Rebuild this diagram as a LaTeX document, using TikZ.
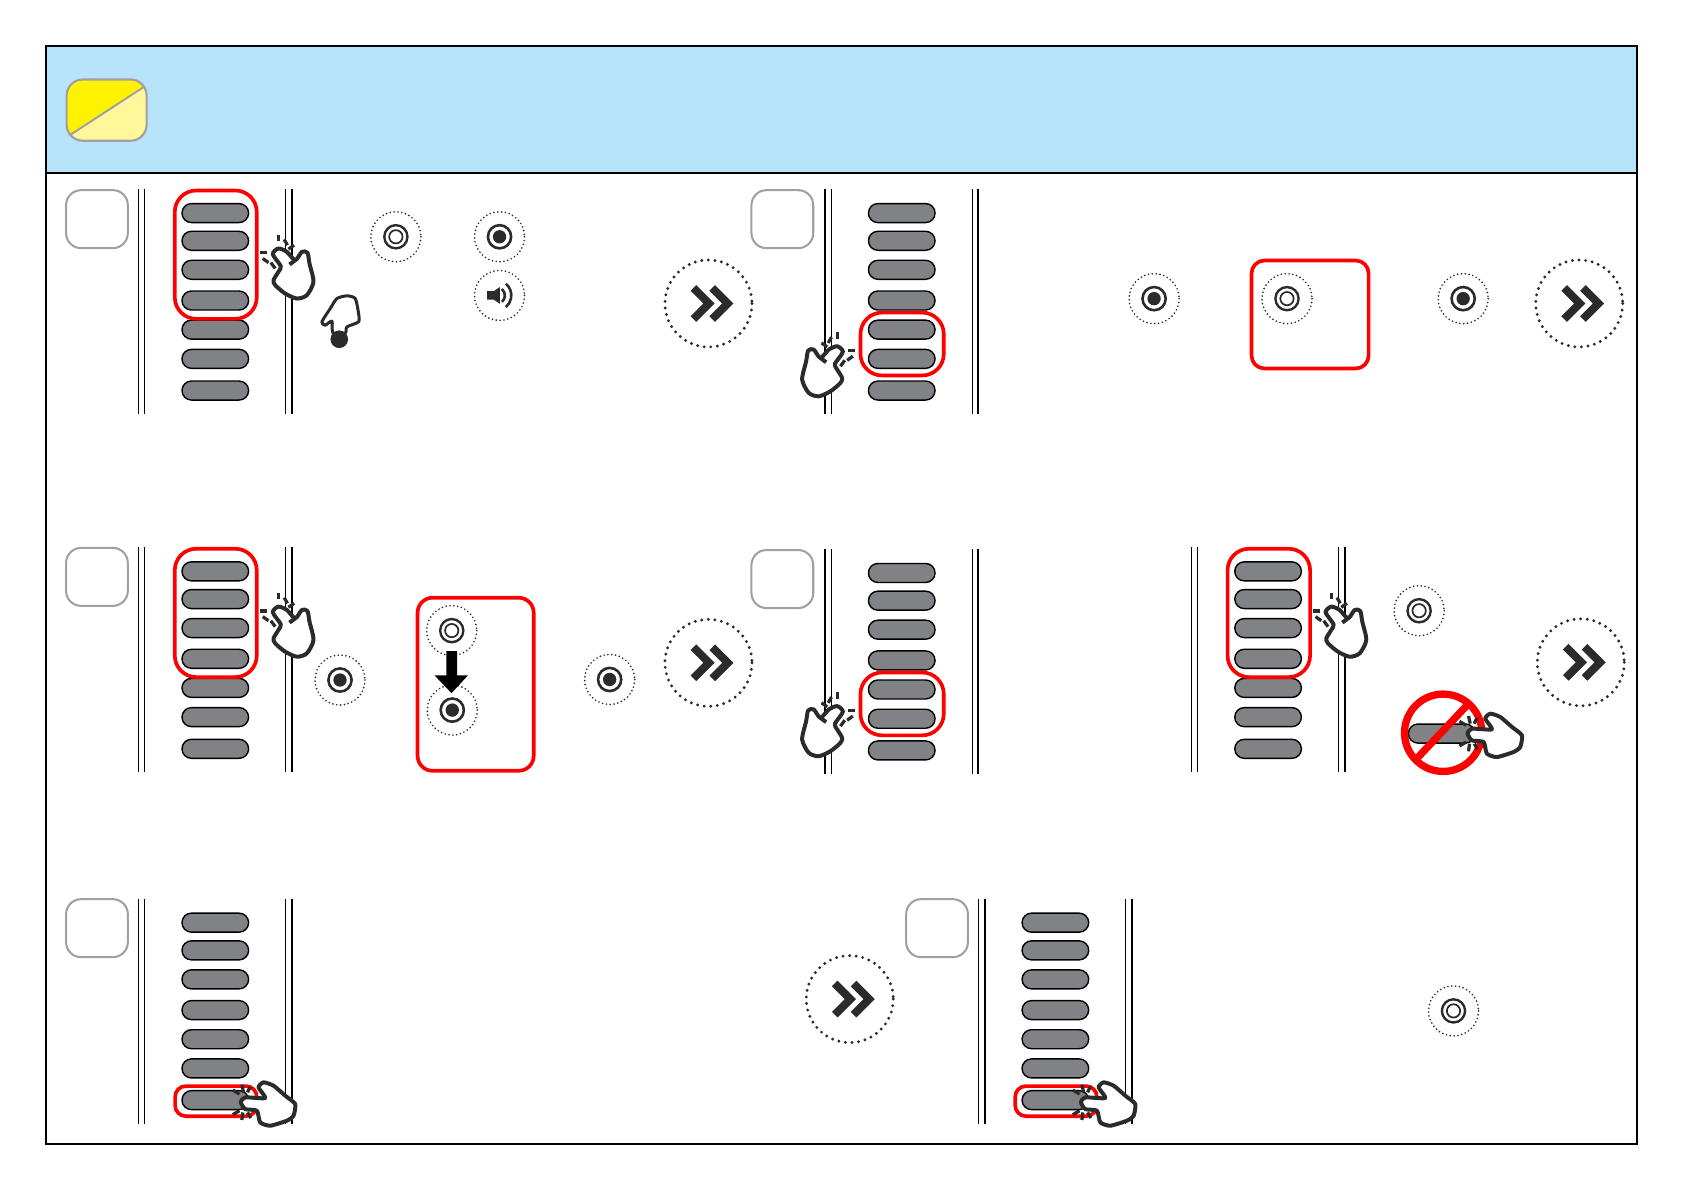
\documentclass[tikz,border=0pt]{standalone}
\usepackage{xcolor}
\definecolor{headblue}{HTML}{B7E4FA}
\definecolor{inkdark}{HTML}{2B2B2B}
\definecolor{pillgray}{HTML}{808285}
\definecolor{boxgray}{HTML}{A0A0A2}
\definecolor{badgeyellow}{HTML}{FFF200}
\definecolor{badgepale}{HTML}{FFF799}
\tikzset{
  numbox/.style={draw=boxgray, line width=1.9pt, fill=white, rounded corners=14pt},
  redbox/.style={draw=red, line width=3.4pt, rounded corners=#1},
  redbox/.default=20pt,
  rail/.style={line width=1.2pt},
  pillbar/.style={draw=black, line width=1.3pt, fill=pillgray, rounded corners=8.8pt},
  tick/.style={draw=inkdark, line width=3pt},
  handline/.style={draw=inkdark, line width=3.7pt, fill=white, line join=round},
  smalldots/.style={draw=inkdark, line width=1.7pt, line cap=round, dash pattern=on 0pt off 3.6pt},
  bigdots/.style={draw=inkdark, line width=3pt, line cap=round, dash pattern=on 0pt off 6.15pt},
  pics/pillstack/.style={code={
    \draw[rail] (-71.4,0) -- (-71.4,209.5);
    \draw[rail] (-65.6,0) -- (-65.6,209.5);
    \draw[rail] (65.6,0) -- (65.6,209.5);
    \draw[rail, line width=1.6pt] (71.3,0) -- (71.3,209.5);
    \draw[pillbar] (-31,13.5) rectangle (31,31.2);
    \draw[pillbar] (-31,39.3) rectangle (31,57);
    \draw[pillbar] (-31,66.3) rectangle (31,84);
    \draw[pillbar] (-31,94.9) rectangle (31,112.6);
    \draw[pillbar] (-31,122) rectangle (31,139.7);
    \draw[pillbar] (-31,149.2) rectangle (31,166.9);
    \draw[pillbar] (-31,178.7) rectangle (31,196.4);
  }},
  pics/clickhand/.style={code={
    \draw[tick] (-14,-36.3) -- (-14,-30.1);
    \draw[tick] (-8.7,-31.7) -- (-5.6,-26.4);
    \draw[tick] (0.6,-26.4) -- (-4.7,-22.7);
    \draw[tick] (-31,-19.3) -- (-24.2,-19.3);
    \draw[tick] (-28.6,-14) -- (-23.3,-10.2);
    \draw[tick] (-21.1,-10.2) -- (-17,-4.7);
    \draw[handline] plot[smooth cycle, tension=0.45] coordinates {(-19.3,-18) (-14,-23.3) (-6.2,-20.2) (1.6,-12.4) (7.8,-20.2) (13,-19.3) (14.9,-9.3) (18.6,7.8) (12.4,20.2) (3.1,23.3) (-7.8,18.6) (-17,10.9) (-18.6,6.2) (-14,-1.6) (-11.8,-6.8)};
    \draw[handline, fill=none] (1.6,-12.4) -- (-3.7,-8.4);
  }},
  pics/lefthand/.style={code={
    \draw[tick] (-31.7,-13) -- (-25.5,-9.3);
    \draw[tick] (-23.3,-18) -- (-21.7,-10.9);
    \draw[tick] (-15.5,-16.1) -- (-18,-10.9);
    \draw[tick] (-31.7,9.9) -- (-25.5,6.2);
    \draw[tick] (-23.3,14.9) -- (-22.4,7.8);
    \draw[tick] (-14.9,13) -- (-18,7.8);
    \draw[handline] plot[smooth cycle, tension=0.35] coordinates {(-24.2,-1.6) (-20.2,-6.2) (-1.6,-5.6) (-7.8,-15.5) (-3.1,-20.2) (6.2,-17.1) (17.1,-7.8) (26.4,0) (24.8,10.9) (18.6,15.5) (3.1,20.2) (-6.2,17.1) (-9.3,6.2) (-20.2,4.7)};
  }},
  pics/ringbtn/.style={code={
    \draw[smalldots] (0,0) circle (23.3);
    \draw[draw=inkdark, line width=2.2pt] (0,0) circle (10.8);
    \draw[draw=inkdark, line width=1.6pt] (0,0) circle (6.2);
  }},
  pics/dotbtn/.style={code={
    \draw[smalldots] (0,0) circle (23.3);
    \draw[draw=inkdark, line width=2.4pt] (0,0) circle (10.8);
    \fill[inkdark] (0,0) circle (6.2);
  }},
  pics/nextbtn/.style={code={
    \draw[bigdots] (0,0) circle (40.5);
    \draw[draw=inkdark, line width=7.4pt, miter limit=4] (-14,-14.5) -- (0.5,0) -- (-14,14.5);
    \draw[draw=inkdark, line width=7.4pt, miter limit=4] (3.5,-14.5) -- (18,0) -- (3.5,14.5);
  }},
}
\begin{document}
\begin{tikzpicture}[x=1pt, y=-1pt]
\useasboundingbox (0,0) rectangle (1568.5,1109.6);
\fill[white] (0,0) rectangle (1568.5,1109.6);
% header
\fill[headblue] (43,43) rectangle (1524,161);
\draw[line width=2pt] (43,161) -- (1524,161);
\draw[line width=2pt] (43,43) rectangle (1524,1064.5);
\fill[badgeyellow, rounded corners=15pt] (62,74) rectangle (136.5,131);
\begin{scope}
\clip[rounded corners=15pt] (62,74) rectangle (136.5,131);
\fill[badgepale] (134,81) -- (66,126) -- (62,135) -- (140,135) -- (140,77) -- cycle;
\end{scope}
\draw[draw=boxgray, line width=1.8pt] (133.8,81) -- (65.5,125.5);
\draw[draw=boxgray, line width=2pt, rounded corners=15pt] (62,74) rectangle (136.5,131);
% number boxes
\draw[numbox] (61.5,177) rectangle (119,231);
\draw[numbox] (699.5,177) rectangle (757,231);
\draw[numbox] (61.5,510) rectangle (119,564);
\draw[numbox] (699.5,512) rectangle (757,566);
\draw[numbox] (61.5,837) rectangle (119,891);
\draw[numbox] (843.5,837) rectangle (901,891);
% pill stacks
\pic at (200.4,176) {pillstack};
\pic at (839.4,176) {pillstack};
\pic at (200.4,509.5) {pillstack};
\pic at (839.4,511) {pillstack};
\pic at (1180.4,509.5) {pillstack};
\pic at (200.4,836.5) {pillstack};
\pic at (982.4,836.5) {pillstack};
% red frames
\draw[redbox] (162.7,177.3) rectangle (239,296.8);
\draw[redbox] (801,291) rectangle (878.5,349.5);
\draw[redbox, rounded corners=12pt] (1165,242.5) rectangle (1274,343);
\draw[redbox] (162.7,510.8) rectangle (239,630.3);
\draw[redbox, rounded corners=14pt] (388.7,556.4) rectangle (496.8,717.5);
\draw[redbox] (801,626) rectangle (878.5,684.5);
\draw[redbox] (1142.7,510.8) rectangle (1219.5,630.3);
\draw[redbox, rounded corners=10pt] (163,1011) rectangle (239,1039);
\draw[redbox, rounded corners=10pt] (945,1011) rectangle (1021,1039);
% round buttons
\pic at (368.5,220.4) {ringbtn};
\pic at (465,220.4) {dotbtn};
\draw[smalldots] (465,275) circle (23.3);
\fill[inkdark] (453.5,271) -- (459.7,271) -- (465.3,267.2) -- (465.3,282.8) -- (459.7,279) -- (453.5,279) -- cycle;
\draw[draw=inkdark, line width=2.4pt] (467.2,269) arc (-50:50:7.8);
\draw[draw=inkdark, line width=2.4pt] (470.9,264.1) arc (-50:50:14.2);
\pic at (1074.3,278) {dotbtn};
\pic at (1198,278) {ringbtn};
\pic at (1362,278) {dotbtn};
\pic at (316.5,633) {dotbtn};
\pic at (420.5,587) {ringbtn};
\pic at (421,661) {dotbtn};
\pic at (567.5,632.5) {dotbtn};
\pic at (1321,568.5) {ringbtn};
\pic at (1353,941) {ringbtn};
% arrow between buttons
\fill[black] (415.4,606) -- (425.4,606) -- (425.4,628.7) -- (435.6,628.7) -- (420.3,645.2) -- (404.5,628.7) -- (415.4,628.7) -- cycle;
% next buttons
\pic at (659.5,282.5) {nextbtn};
\pic at (1470,282.5) {nextbtn};
\pic at (659.5,617) {nextbtn};
\pic at (1471.5,616.5) {nextbtn};
\pic at (791,930) {nextbtn};
% hands
\pic at (273.2,254.6) {clickhand};
\pic[xscale=-1] at (765.3,345.6) {clickhand};
\pic at (273.2,588) {clickhand};
\pic[xscale=-1] at (765.3,680.6) {clickhand};
\pic at (1253.2,588) {clickhand};
\pic at (248.4,1027.7) {lefthand};
\pic at (1030.4,1027.7) {lefthand};
% hand pressing down
\draw[handline, line width=2.8pt] plot[smooth cycle, tension=0.4] coordinates {(299.6,299.6) (307.4,287.2) (313.6,277.9) (322.9,275.4) (330.7,277.9) (333.8,291.9) (333.8,299.6) (322.9,304.3) (321.4,310) (309.9,310) (309,299) (302.7,302.7)};
\fill[inkdark] (315.8,315.8) circle (8.2);
% forbidden sign
\draw[pillbar] (1311,674) rectangle (1373,691.7);
\draw[draw=red, line width=6.8pt] (1343.4,682.1) circle (36);
\draw[draw=red, line width=6.8pt] (1367,655) -- (1318,707);
\pic at (1390.3,684.5) {lefthand};
\end{tikzpicture}
\end{document}
